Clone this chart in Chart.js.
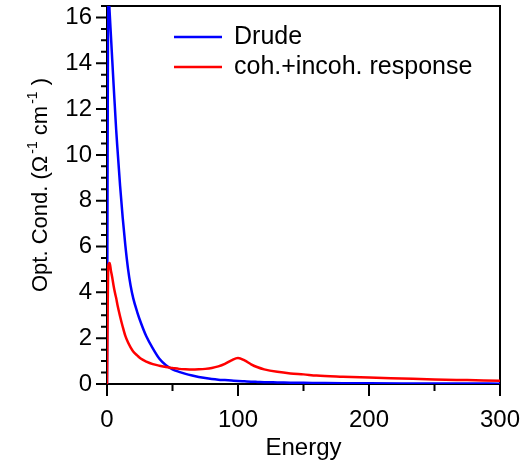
<!DOCTYPE html>
<html>
<head>
<meta charset="utf-8">
<script src="https://cdn.jsdelivr.net/npm/chart.js@4/dist/chart.umd.min.js"></script>
<style>
  html, body { margin: 0; padding: 0; background: #fff; }
  #wrap { width: 529px; height: 463px; }
</style>
</head>
<body>
<div id="wrap"><canvas id="cond-chart" width="529" height="463"></canvas></div>
<script>
// 数据
const energy = [0, 1, 2, 3, 4, 5, 6, 7, 8, 10, 12, 14, 16, 18, 20, 23, 26, 30, 35, 40, 45, 50,
    55, 60, 65, 70, 75, 80, 85, 90, 95, 100, 105, 110, 115, 120, 130, 140, 150, 160,
    180, 200, 225, 250, 275, 300];
const drude = [0, 17.25, 16.25, 15.2, 14.15, 13.1, 12.1, 11.1, 10.25, 8.65, 7.25, 6.05, 5.05, 4.3, 3.75, 3.15, 2.65, 2.08, 1.55, 1.1, 0.82, 0.64,
    0.53, 0.44, 0.37, 0.31, 0.26, 0.22, 0.19, 0.17, 0.15, 0.13, 0.115, 0.1, 0.09, 0.08, 0.07, 0.06, 0.05, 0.045,
    0.035, 0.03, 0.025, 0.02, 0.02, 0.015];
const cohIncoh = [0, 5.15, 5.28, 4.95, 4.65, 4.3, 4.0, 3.75, 3.45, 2.95, 2.5, 2.1, 1.82, 1.6, 1.42, 1.25, 1.1, 0.98, 0.87, 0.8, 0.74, 0.7,
    0.66, 0.64, 0.63, 0.64, 0.66, 0.7, 0.77, 0.88, 1.03, 1.13, 1.03, 0.86, 0.73, 0.64, 0.53, 0.46, 0.42, 0.37,
    0.32, 0.28, 0.24, 0.2, 0.17, 0.14];
const seriesLabels = ['Drude', 'coh.+incoh. response'];
const xTicks = [0, 100, 200, 300];
const yTicks = [0, 2, 4, 6, 8, 10, 12, 14, 16];

const FONT = "'Liberation Sans', Arial, sans-serif";

function toPoints(xs, ys) {
    return xs.map((x, i) => ({ x: x, y: ys[i] }));
}

// 边框和刻度（主/次刻度）
const frameTicks = {
    id: 'frameTicks',
    beforeDatasetsDraw(chart) {
        const { ctx, chartArea: a, scales: { x, y } } = chart;
        ctx.save();
        ctx.strokeStyle = '#000';
        ctx.lineWidth = 2;
        ctx.strokeRect(a.left, a.top, a.right - a.left, a.bottom - a.top);
        ctx.beginPath();
        for (let v = x.min; v <= x.max; v += 50) {
            const px = x.getPixelForValue(v);
            const len = v % 100 === 0 ? 12 : 7;
            ctx.moveTo(px, a.bottom);
            ctx.lineTo(px, a.bottom + len);
        }
        for (let v = y.min; v <= y.max + 0.01; v += 0.5) {
            const py = y.getPixelForValue(v);
            const len = v % 2 === 0 ? 11 : 6;
            ctx.moveTo(a.left, py);
            ctx.lineTo(a.left - len, py);
        }
        ctx.stroke();
        ctx.restore();
    },
    afterDraw(chart) {
        const { ctx, chartArea: a } = chart;
        ctx.save();
        // 图例
        chart.data.datasets.forEach((ds, i) => {
            const yy = 37 + i * 30;
            ctx.strokeStyle = ds.borderColor;
            ctx.lineWidth = 2.5;
            ctx.beginPath();
            ctx.moveTo(174, yy);
            ctx.lineTo(222, yy);
            ctx.stroke();
            ctx.fillStyle = '#000';
            ctx.font = '25px ' + FONT;
            ctx.textBaseline = 'middle';
            ctx.textAlign = 'left';
            ctx.fillText(ds.label, 234, yy);
        });
        // Y轴标题（带上标）
        const parts = [
            ['Opt. Cond. (\u03A9', false], ['-1', true], [' cm', false], ['-1', true], [' )', false]
        ];
        const big = '22px ' + FONT, small = '14px ' + FONT;
        const gap = 2;
        let total = 0;
        parts.forEach(p => { ctx.font = p[1] ? small : big; total += ctx.measureText(p[0]).width + (p[1] ? gap : 0); });
        const cy = (a.top + a.bottom) / 2 - 10;
        ctx.translate(47, cy);
        ctx.rotate(-Math.PI / 2);
        ctx.textBaseline = 'alphabetic';
        ctx.textAlign = 'left';
        ctx.fillStyle = '#000';
        let pos = -total / 2;
        parts.forEach(p => {
            ctx.font = p[1] ? small : big;
            if (p[1]) pos += gap;
            ctx.fillText(p[0], pos, p[1] ? -10 : 0);
            pos += ctx.measureText(p[0]).width;
        });
        ctx.restore();
    }
};

const ctx = document.getElementById('cond-chart');
new Chart(ctx, {
    type: 'line',
    data: {
        datasets: [{
            label: seriesLabels[0],
            data: toPoints(energy, drude),
            borderColor: '#0000ff',
            borderWidth: 2.5,
            pointRadius: 0,
            cubicInterpolationMode: 'monotone',
            order: 2
        }, {
            label: seriesLabels[1],
            data: toPoints(energy, cohIncoh),
            borderColor: '#ff0000',
            borderWidth: 2.5,
            pointRadius: 0,
            cubicInterpolationMode: 'monotone',
            order: 1
        }]
    },
    options: {
        responsive: false,
        animation: false,
        layout: { padding: { left: 0, right: 29, top: 6, bottom: 0 } },
        plugins: {
            legend: { display: false },
            tooltip: { enabled: false }
        },
        scales: {
            x: {
                type: 'linear',
                min: 0,
                max: 300,
                afterFit: s => { s.height = 79; s.paddingLeft = 0; s.paddingRight = 0; },
                afterBuildTicks: s => { s.ticks = xTicks.map(v => ({ value: v })); },
                grid: { display: false, drawTicks: false },
                border: { display: false },
                ticks: {
                    padding: 22,
                    color: '#000',
                    font: { family: FONT, size: 24 },
                    maxRotation: 0
                },
                title: {
                    display: true,
                    text: 'Energy',
                    color: '#000',
                    font: { family: FONT, size: 24 },
                    padding: { top: 0, bottom: 0 }
                }
            },
            y: {
                min: 0,
                max: 16.5,
                afterFit: s => { s.width = 107; s.paddingTop = 0; s.paddingBottom = 0; },
                afterBuildTicks: s => { s.ticks = yTicks.map(v => ({ value: v })); },
                grid: { display: false, drawTicks: false },
                border: { display: false },
                ticks: {
                    padding: 15,
                    color: '#000',
                    font: { family: FONT, size: 24 }
                }
            }
        }
    },
    plugins: [frameTicks]
});
</script>
</body>
</html>
